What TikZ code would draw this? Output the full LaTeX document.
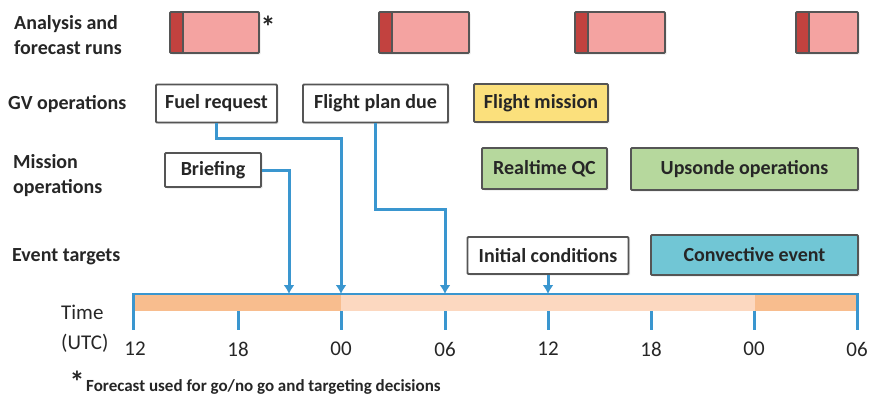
\documentclass[tikz,border=0pt]{standalone}
\usepackage{fontspec}
\setmainfont{Carlito}
\usetikzlibrary{arrows.meta,shadows}
\definecolor{boxgray}{HTML}{555555}
\definecolor{runpink}{HTML}{F4A3A1}
\definecolor{rundark}{HTML}{C2423F}
\definecolor{missyellow}{HTML}{FBE07C}
\definecolor{qcgreen}{HTML}{B6D89D}
\definecolor{convteal}{HTML}{71C6D5}
\definecolor{bardark}{HTML}{F8BD8E}
\definecolor{barlight}{HTML}{FCD8C0}
\definecolor{lineblue}{HTML}{3A96CF}
\begin{document}
\begin{tikzpicture}[x=1pt,y=-1pt,
  shad/.style={drop shadow={opacity=0.18, shadow xshift=1.5pt, shadow yshift=-1.5pt}},
  box/.style={draw=boxgray, line width=1.8pt, fill=white, rounded corners=1pt, inner sep=0pt, shad,
    font=\bfseries\fontsize{20}{22}\selectfont, text=black!85},
  runbox/.style={draw=boxgray, line width=1.8pt, fill=runpink, rounded corners=1pt, inner sep=0pt, shad,
    minimum height=41pt,
    path picture={\fill[rundark] (path picture bounding box.north west) rectangle ([xshift=13pt]path picture bounding box.south west);
      \draw[boxgray, line width=1.3pt] ([xshift=13pt]path picture bounding box.north west) -- ([xshift=13pt]path picture bounding box.south west);}},
  rowlabel/.style={anchor=west, align=left, inner sep=0pt, font=\bfseries\fontsize{20}{25}\selectfont, text=black!85},
  conn/.style={draw=lineblue, line width=3pt, -{Latex[length=9pt,width=11pt]}},
  tick/.style={draw=lineblue, line width=3pt},
  ticklabel/.style={inner sep=0pt, font=\fontsize{21}{22}\selectfont, text=black!85},
  star/.style={inner sep=0pt, font=\bfseries\fontsize{30}{30}\selectfont, text=black!85}
]
\useasboundingbox (0,0) rectangle (869,399);

% row labels
\node[rowlabel] (lab1) at (14,35) {Analysis and\\forecast runs};
\node[rowlabel] (lab2) at (8,104) {GV operations};
\node[rowlabel] (lab3) at (13,176) {Mission\\operations};
\node[rowlabel] (lab4) at (12,257) {Event targets};

% analysis and forecast runs
\node[runbox, minimum width=89pt] (r1) at (214.5,32.5) {};
\node[runbox, minimum width=90pt] (r2) at (424,32.5) {};
\node[runbox, minimum width=90pt] (r3) at (620,32.5) {};
\node[runbox, minimum width=62pt] (r4) at (827,32.5) {};
\node[star] (ast1) at (268,27) {*};

% GV operations
\node[box, minimum width=121pt, minimum height=38pt] (fuel) at (216.5,103.5) {Fuel request};
\node[box, minimum width=145pt, minimum height=38pt] (plan) at (375.5,103.5) {Flight plan due};
\node[box, fill=missyellow, minimum width=134pt, minimum height=38pt] (mission) at (541,103) {Flight mission};

% Mission operations
\node[box, minimum width=96pt, minimum height=34pt] (brief) at (213,170) {Briefing};
\node[box, fill=qcgreen, minimum width=125pt, minimum height=41pt] (qc) at (544.5,168.5) {Realtime QC};
\node[box, fill=qcgreen, minimum width=227pt, minimum height=42pt] (upsonde) at (744.5,169) {Upsonde operations};

% Event targets
\node[box, minimum width=161pt, minimum height=37pt] (init) at (548,255.5) {Initial conditions};
\node[box, fill=convteal, minimum width=207pt, minimum height=40pt] (conv) at (754.5,255) {Convective event};

% timeline bar
\fill[bardark] (133,294) rectangle (341,311);
\fill[barlight] (341,294) rectangle (755,311);
\fill[bardark] (755,294) rectangle (857,311);
\draw[draw=lineblue, line width=2.2pt] (133,294) -- (857,294);
\draw[tick] (133,293) -- (133,330);
\draw[tick] (857,293) -- (857,330);
\foreach \x in {238,341,445,548,651,754} \draw[tick] (\x,311) -- (\x,330);
\node[ticklabel] (t1) at (135,349) {12};
\node[ticklabel] (t2) at (238,349) {18};
\node[ticklabel] (t3) at (341,349) {00};
\node[ticklabel] (t4) at (445,349) {06};
\node[ticklabel] (t5) at (548,349) {12};
\node[ticklabel] (t6) at (651,349) {18};
\node[ticklabel] (t7) at (754,349) {00};
\node[ticklabel] (t8) at (857,349) {06};
\node[anchor=west, align=left, inner sep=0pt, font=\fontsize{21}{30}\selectfont, text=black!85] (timelab) at (61,329) {Time\\(UTC)};

% connector targets
\coordinate (aBrief) at (289,294);
\coordinate (aFuel) at (341,294);
\coordinate (aPlan) at (445,294);
\coordinate (aInit) at (548,294);

\draw[conn] (brief.east) -| (aBrief);
\draw[conn] (fuel.south) -- ++(0,15) -| (aFuel);
\draw[conn] (plan.south) -- ++(0,86) -| (aPlan);
\draw[conn] (init.south) -- (aInit);

% footnote
\node[star] (ast2) at (77,382) {*};
\node[anchor=west, inner sep=0pt, font=\bfseries\fontsize{17}{18}\selectfont, text=black!85] (foot) at (86,387) {Forecast used for go/no go and targeting decisions};
\end{tikzpicture}
\end{document}
